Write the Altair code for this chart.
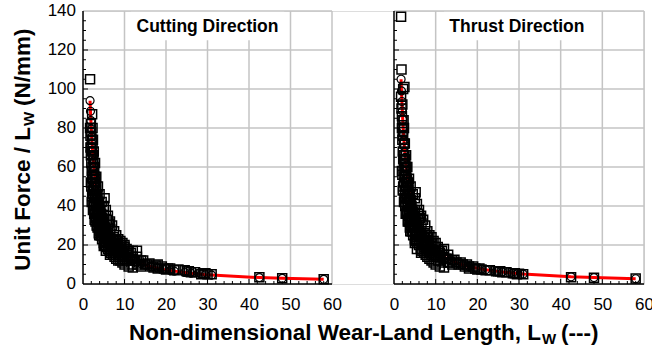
import altair as alt
import pandas as pd

# Model predictions evaluated at each wear-land length
lw = [1.7, 1.8, 1.9, 2.0, 2.1, 2.2, 2.3, 2.4, 2.5, 2.6, 2.7, 2.8, 2.9, 3.0, 3.1, 3.2,
      3.3, 3.4, 3.5, 3.6, 3.7, 3.8, 3.9, 4.0, 4.2, 4.4, 4.6, 4.8, 5.0, 5.3, 5.6, 6.0,
      6.4, 6.8, 7.2, 7.6, 8.0, 8.5, 9.0, 9.5, 10.0, 11.0, 12.0, 13.0, 14.0, 15.0, 16.5,
      18.0, 19.5, 21.0, 22.0, 24.5, 26.0, 28.5, 29.5, 31.0, 42.5, 48.0, 58.0]
cut_model = [94.0, 88.6, 83.8, 79.4, 75.5, 71.9, 68.7, 65.7, 63.0, 60.5, 58.1, 56.0, 54.0,
             52.1, 50.4, 48.7, 47.2, 45.7, 44.4, 43.1, 41.9, 40.7, 39.7, 38.6, 36.7, 35.0,
             33.4, 32.0, 30.6, 28.8, 27.2, 25.3, 23.7, 22.2, 21.0, 19.8, 18.8, 17.6, 16.6,
             15.7, 14.9, 13.5, 12.3, 11.3, 10.5, 9.8, 8.8, 8.1, 7.4, 6.9, 6.6, 5.9, 5.5,
             5.0, 4.8, 4.6, 3.3, 2.9, 2.4]
thrust_model = [105.0, 99.0, 93.6, 88.7, 84.3, 80.4, 76.7, 73.4, 70.3, 67.5, 64.9, 62.5,
                60.3, 58.2, 56.2, 54.4, 52.7, 51.1, 49.6, 48.1, 46.8, 45.5, 44.3, 43.1,
                41.0, 39.1, 37.3, 35.7, 34.2, 32.2, 30.4, 28.3, 26.5, 24.8, 23.4, 22.1,
                21.0, 19.7, 18.6, 17.5, 16.6, 15.1, 13.8, 12.7, 11.7, 10.9, 9.9, 9.0, 8.3,
                7.7, 7.3, 6.6, 6.2, 5.6, 5.4, 5.1, 3.7, 3.3, 2.7]

# Measured unit forces, one entry per test
test_lw = [1.7, 1.7, 1.8, 1.8, 1.9, 1.9, 2.0, 2.0, 2.0, 2.1, 2.1, 2.2, 2.2, 2.2,
           2.3, 2.3, 2.3, 2.4, 2.4, 2.4, 2.5, 2.5, 2.5, 2.6, 2.6, 2.6, 2.7, 2.7, 2.7,
           2.8, 2.8, 2.8, 2.9, 2.9, 3.0, 3.0, 3.0, 3.1, 3.1, 3.2, 3.2, 3.2, 3.3, 3.3,
           3.4, 3.4, 3.5, 3.5, 3.5, 3.6, 3.6, 3.7, 3.7, 3.8, 3.8, 3.8, 3.9, 3.9,
           4.0, 4.0, 4.0, 4.2, 4.2, 4.4, 4.4, 4.4, 4.6, 4.6, 4.8, 4.8, 5.0, 5.0, 5.0,
           5.3, 5.3, 5.6, 5.6, 6.0, 6.0, 6.0, 6.4, 6.4, 6.8, 6.8, 7.2, 7.2, 7.6, 7.6,
           8.0, 8.0, 8.5, 8.5, 9.0, 9.0, 9.5, 9.5, 10.0, 10.0, 11.0, 11.0, 12.0, 12.0,
           13.0, 13.0, 14.0, 14.0, 15.0, 16.5, 18.0, 18.0, 19.5, 21.0, 22.0, 24.5,
           26.0, 28.5, 29.5, 31.0, 42.5, 48.0, 58.0,
           3.0, 3.4, 3.8, 4.2, 4.6, 5.0, 5.3, 5.6, 6.0, 6.4, 6.8, 7.2, 7.6, 8.0,
           8.5, 9.0, 9.5, 10.0, 11.0, 12.0, 5.0, 5.6, 6.4, 7.2, 8.0, 9.0, 10.5, 10.5,
           2.2, 2.5, 1.9, 2.0, 2.7, 3.1, 3.5, 4.0, 4.4, 4.8, 12.5, 13.5, 15.5, 17.0,
           20.0, 25.0, 30.0,
           4.5, 5.0, 5.5, 5.2, 6.0, 6.5, 7.0, 7.5, 8.0, 8.5, 9.0, 9.5, 10.0, 10.5,
           11.5, 12.0, 6.2, 6.6, 7.4, 8.2, 8.8, 4.0, 3.6, 3.2, 2.9, 2.6, 2.4, 2.3,
           5.8, 7.8, 9.2, 10.8, 11.8, 13.0, 14.5, 16.0, 17.5, 19.0, 20.5, 23.0, 25.5,
           27.0, 29.0, 2.1, 2.4, 2.8, 3.3, 3.9, 5.0, 5.5, 6.5]
cut_test = [105, 80, 76, 70, 82, 66, 78, 62, 70, 74, 58, 87, 68, 55,
            72, 60, 50, 66, 54, 46, 64, 56, 48, 60, 50, 42, 58, 48, 40,
            55, 46, 38, 52, 44, 54, 45, 36, 48, 40, 50, 42, 34, 46, 38,
            44, 36, 46, 40, 32, 42, 35, 40, 33, 42, 36, 29, 38, 31,
            40, 34, 27, 37, 30, 36, 29, 25, 34, 28, 32, 26, 31, 25, 35,
            29, 24, 28, 22, 26, 21, 29, 24, 20, 23, 18, 22, 17, 20, 16,
            21, 16, 18, 14, 19, 15, 17, 13, 19, 14, 17, 12, 14, 10,
            17, 10, 12, 9, 10, 9, 10, 8, 8, 8, 7, 7,
            6, 5, 5.5, 5, 3.5, 3, 2.5,
            32, 30, 26, 25, 23, 21, 20, 19, 18, 17, 16, 15, 14, 13,
            12, 12, 11, 10, 9, 8.5, 27, 25, 22, 19, 18, 16, 16, 12,
            45, 40, 52, 50, 36, 34, 29, 31, 32, 29, 12, 11, 10, 8.5,
            7.5, 6.5, 5,
            42, 40, 38, 44, 35, 32, 30, 27, 25, 23, 22, 21, 20, 18,
            16, 17, 31, 28, 24, 22, 19, 46, 50, 55, 62, 68, 74, 80,
            33, 23, 20, 15, 13, 14, 12, 10.5, 9.5, 9, 8, 7.5, 6.5,
            6, 5.5, 42, 38, 33, 30, 25, 19.5, 17, 15]
thrust_test = [137, 96, 110, 90, 86, 80, 84, 74, 92, 78, 68, 100, 76, 64,
               80, 66, 58, 72, 62, 52, 101, 66, 55, 64, 58, 48, 62, 55, 45,
               60, 52, 44, 58, 50, 60, 50, 40, 54, 44, 52, 46, 36, 52, 42,
               48, 40, 50, 44, 35, 46, 38, 44, 36, 46, 40, 32, 42, 34,
               43, 37, 30, 40, 33, 38, 32, 27, 37, 30, 35, 29, 34, 27, 38,
               32, 26, 30, 24, 29, 23, 32, 26, 22, 25, 20, 24, 19, 22, 18,
               22, 17, 20, 16, 18, 15, 17, 14, 19, 14, 16, 12, 15, 11,
               13, 11, 12, 10, 11, 10, 9, 8, 8, 7.5, 7, 6.5,
               6, 5.5, 5, 5, 3.5, 3.2, 2.8,
               36, 33, 29, 27, 25, 23, 22, 21, 20, 18, 17, 16, 15, 14,
               13, 12, 11, 10, 9, 8.5, 30, 27, 24, 21, 19, 17, 15, 12,
               50, 44, 58, 56, 40, 37, 32, 34, 35, 32, 13, 11, 10, 9,
               7.5, 6.5, 5.2,
               46, 44, 41, 47, 38, 35, 33, 30, 27, 25, 24, 22, 21, 19,
               17, 18, 34, 31, 26, 24, 21, 50, 54, 60, 66, 72, 80, 84,
               36, 25, 21, 17, 14, 15, 12.5, 11, 10, 9, 8, 7, 6.5,
               6, 5.5, 48, 42, 36, 32, 27, 21, 18, 16]

x_ticks = [0, 10, 20, 30, 40, 50, 60]
y_ticks = [0, 20, 40, 60, 80, 100, 120, 140]
x_minor = [v for v in range(2, 60, 2) if v % 10]
y_minor = [v for v in range(5, 140, 5) if v % 20]

FONT = "Liberation Sans"
GRID = "#c4c4c4"
PLOT_H = 273

model_df = pd.DataFrame({"lw": lw, "cut": cut_model, "thrust": thrust_model})
test_df = pd.DataFrame({"lw": test_lw, "cut": cut_test, "thrust": thrust_test})

y_scale = alt.Scale(domain=[0, 140], nice=False, zero=True)


def panel(col, title, rng, box, first):
    xs = alt.Scale(domain=[0, 60], range=rng, nice=False, zero=False)

    def X(field, axis=None):
        return alt.X(field, type="quantitative", scale=xs, axis=axis)

    def Y(field):
        return alt.Y(field, type="quantitative", scale=y_scale, axis=None)

    x_axis = alt.Axis(values=x_ticks, title=None, grid=False, ticks=False, domain=False,
                      labelFont=FONT, labelFontSize=17, labelColor="black",
                      labelPadding=12, labelFlush=False, labelOverlap=False,
                      orient="bottom", format="d")

    vgrid = alt.Chart(pd.DataFrame({"gx": x_ticks[1:], "y0": 0, "y1": 140})).mark_rule(
        color=GRID, strokeWidth=1.5).encode(x=X("gx"), y=Y("y0"), y2="y1")
    title_box = alt.Chart(pd.DataFrame({"bx0": [box[0]], "bx1": [box[1]],
                                        "by0": [125], "by1": [140]})).mark_rect(
        color="white").encode(x=X("bx0"), x2="bx1", y=Y("by0"), y2="by1")
    hgrid = alt.Chart(pd.DataFrame({"gy": y_ticks[1:], "x0": 0, "x1": 60})).mark_rule(
        color=GRID, strokeWidth=1.5).encode(x=X("x0"), x2="x1", y=Y("gy"))

    left_line = alt.Chart(pd.DataFrame({"x0": [0], "y0": [0], "y1": [140]})).mark_rule(
        color="black", strokeWidth=1.5).encode(x=X("x0"), y=Y("y0"), y2="y1")
    bottom_line = alt.Chart(pd.DataFrame({"x0": [0], "x1": [60], "y0": [0]})).mark_rule(
        color="black", strokeWidth=1.5).encode(x=X("x0"), x2="x1", y=Y("y0"))

    def xtick(vals, size):
        return alt.Chart(pd.DataFrame({"tx": vals, "y0": 0})).mark_tick(
            orient="vertical", size=size, thickness=1, color="black", opacity=1,
            yOffset=-size / 2).encode(x=X("tx"), y=Y("y0"))

    def ytick(vals, size):
        return alt.Chart(pd.DataFrame({"ty": vals, "x0": 0})).mark_tick(
            orient="horizontal", size=size, thickness=1, color="black", opacity=1,
            xOffset=size / 2).encode(x=X("x0"), y=Y("ty"))

    fit = alt.Chart(model_df).mark_line(color="#ff0000", strokeWidth=3).encode(
        x=X("lw"), y=Y(col))
    circles = alt.Chart(model_df).mark_point(
        shape="circle", filled=False, size=64, color="black", strokeWidth=1.2, opacity=1
    ).encode(x=X("lw"), y=Y(col))
    squares = alt.Chart(test_df).mark_point(
        shape="square", filled=False, size=81, color="black", strokeWidth=1.5, opacity=1
    ).encode(x=X("lw", x_axis), y=Y(col))

    label = alt.Chart(pd.DataFrame({"tx": [box[2]], "t": [title]})).mark_text(
        font=FONT, fontSize=17.5, fontWeight="bold", color="black", align="center",
        baseline="alphabetic").encode(x=X("tx"), y=alt.value(21), text="t:N")

    out = [vgrid, title_box, hgrid, xtick(x_minor, 3), xtick(x_ticks[1:-1], 5),
           ytick(y_minor, 3), ytick(y_ticks[1:-1], 5), fit, circles, squares,
           left_line, bottom_line, label]
    if first:
        # value labels of the shared force axis, left of the first panel
        out.append(alt.Chart(pd.DataFrame({"ty": y_ticks})).mark_text(
            font=FONT, fontSize=17, color="black", align="right", baseline="middle",
            dx=-7).encode(x=alt.value(0), y=Y("ty"), text=alt.Text("ty:Q", format="d")))
    return out


def text_piece(s, x, y, size, align, angle=0):
    return alt.Chart(pd.DataFrame({"t": [s]})).mark_text(
        font=FONT, fontSize=size, fontWeight="bold", color="black", align=align,
        baseline="alphabetic", angle=angle).encode(
        x=alt.value(x), y=alt.value(y), text="t:N")


titles = [
    text_piece("Non-dimensional Wear-Land Length, L", 458, 329, 22.5, "right"),
    text_piece("W", 459, 333, 15, "left"),
    text_piece("(---)", 478, 329, 22.5, "left"),
    text_piece("Unit Force / L", -53, 116, 22.5, "right", 270),
    text_piece("W", -49, 115, 15, "left", 270),
    text_piece("(N/mm)", -53, 95, 22.5, "left", 270),
]

layers = (panel("cut", "Cutting Direction", [0, 249], (11.5, 48.5, 30), True)
          + panel("thrust", "Thrust Direction", [311, 561], (12, 47, 29.5), False)
          + titles)

chart = alt.layer(*layers).resolve_scale(x="independent").resolve_axis(
    x="independent").properties(
    width=561, height=PLOT_H,
    autosize=alt.AutoSizeParams(type="none"),
    padding={"left": 83, "top": 11, "right": 8, "bottom": 67},
).configure_view(stroke=None).configure(background="white")

chart.save("out.html", embed_options={"renderer": "svg", "actions": False})
